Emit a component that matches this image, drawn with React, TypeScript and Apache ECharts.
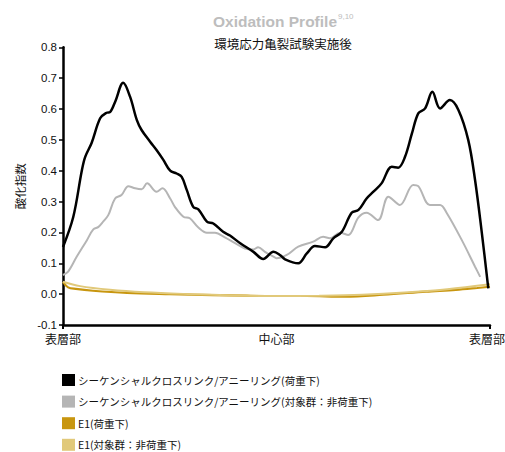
import React, { useEffect, useRef } from "react";
import * as echarts from "echarts";

// Position through the specimen: 0 = surface, 50 = centre, 100 = opposite surface
const positionTicks = [0, 50, 100];
const positionLabels = ["表層部", "中心部", "表層部"];

// Sequential crosslink / annealing, under load
const seqLoadX = [0, 2.4, 4.4, 5.2, 6.7, 8.7, 10.2, 11.0, 12.2, 14.1, 15.7, 17.3, 18.4, 20.4, 21.9, 23.5, 25.1, 26.6, 27.8, 29.0, 30.5, 31.7, 33.7, 35.2, 37.5, 39.1, 41.5, 44.6, 46.9, 49.3, 50.8, 52.0, 55.1, 57.1, 59.0, 61.4, 63.3, 65.3, 67.6, 69.2, 71.1, 72.7, 74.6, 77.0, 78.5, 80.1, 81.7, 83.2, 84.8, 86.5, 88.3, 90.6, 92.6, 94.9, 96.5, 98.1, 99.6];
const seqLoadY = [0.153, 0.25, 0.4, 0.445, 0.49, 0.57, 0.588, 0.59, 0.623, 0.685, 0.64, 0.564, 0.532, 0.494, 0.467, 0.435, 0.4, 0.391, 0.38, 0.337, 0.283, 0.275, 0.235, 0.229, 0.202, 0.19, 0.165, 0.137, 0.114, 0.137, 0.127, 0.113, 0.1, 0.132, 0.156, 0.152, 0.181, 0.202, 0.264, 0.273, 0.31, 0.332, 0.359, 0.413, 0.41, 0.445, 0.52, 0.586, 0.602, 0.656, 0.602, 0.629, 0.597, 0.5, 0.37, 0.197, 0.019];

// Sequential crosslink / annealing, control (no load)
const seqCtrlX = [0, 1.2, 3.2, 5.6, 7.1, 8.3, 9.4, 10.6, 12.2, 13.7, 15.3, 16.9, 18.4, 19.7, 21.9, 23.3, 25.1, 26.2, 28.2, 29.7, 31.7, 33.7, 35.6, 37.9, 40.3, 42.6, 44.6, 45.7, 47.3, 49.6, 50.0, 52.4, 55.1, 58.6, 60.9, 62.5, 64.9, 66.8, 69.2, 71.1, 73.8, 76.2, 78.9, 82.0, 83.2, 85.9, 88.3, 89.9, 93.4, 96.5, 97.7];
const seqCtrlY = [0.062, 0.073, 0.121, 0.175, 0.21, 0.218, 0.235, 0.256, 0.31, 0.321, 0.35, 0.343, 0.34, 0.359, 0.332, 0.343, 0.31, 0.283, 0.251, 0.246, 0.216, 0.199, 0.199, 0.184, 0.165, 0.148, 0.145, 0.152, 0.137, 0.119, 0.116, 0.127, 0.154, 0.17, 0.186, 0.181, 0.199, 0.192, 0.249, 0.264, 0.24, 0.316, 0.289, 0.354, 0.35, 0.289, 0.289, 0.262, 0.175, 0.089, 0.056];

// E1, under load
const e1LoadX = [0, 1.2, 3, 7, 15, 25, 35, 43, 50, 57, 66, 75, 85, 92, 97, 100];
const e1LoadY = [0.04, 0.022, 0.017, 0.011, 0.004, 0.0, -0.003, -0.005, -0.006, -0.006, -0.008, -0.002, 0.008, 0.014, 0.02, 0.024];

// E1, control (no load)
const e1CtrlX = [0, 4, 11, 19, 30, 40, 50, 60, 70, 80, 90, 100];
const e1CtrlY = [0.04, 0.026, 0.014, 0.006, 0.0, -0.004, -0.006, -0.005, -0.002, 0.005, 0.016, 0.032];

const seriesNames = [
  "シーケンシャルクロスリンク/アニーリング(荷重下)",
  "シーケンシャルクロスリンク/アニーリング(対象群：非荷重下)",
  "E1(荷重下)",
  "E1(対象群：非荷重下)",
];

const titleText = "Oxidation Profile";
const titleRefs = "9,10";
const subtitleText = "環境応力亀裂試験実施後";

const pairs = (xs: number[], ys: number[]) => xs.map((x, i) => [x, ys[i]]);

const LATIN = "Liberation Sans";
const CJK = "Noto Sans CJK JP";

export default function App() {
  const ref = useRef<HTMLDivElement>(null);

  useEffect(() => {
    if (!ref.current) return;
    const chart = echarts.init(ref.current, null, { renderer: "svg" });
    const line = (name: string, data: number[][], color: string, width: number, z: number) => ({
      name,
      type: "line",
      data,
      smooth: 0.35,
      showSymbol: false,
      symbol: "none",
      z,
      lineStyle: { color, width },
      itemStyle: { color },
    });

    chart.setOption({
      animation: false,
      backgroundColor: "#ffffff",
      graphic: [
        {
          type: "text",
          x: 213,
          y: 12,
          style: {
            text: `{a|${titleText}}{b|${titleRefs}}`,
            rich: {
              a: { fontFamily: LATIN, fontSize: 15.5, fontWeight: "bold", fill: "#bdbdbd", lineHeight: 18 },
              b: { fontFamily: LATIN, fontSize: 8, fill: "#bdbdbd", lineHeight: 18, padding: [0, 0, 9, 1] },
            },
          },
        },
        {
          type: "text",
          x: 283,
          y: 43,
          style: {
            text: subtitleText,
            fontFamily: CJK,
            fontSize: 12.5,
            fill: "#111",
            align: "center",
            verticalAlign: "middle",
          },
        },
      ],
      legend: {
        orient: "vertical",
        left: 62,
        top: 374,
        padding: 0,
        height: 78,
        itemWidth: 13,
        itemHeight: 12,
        itemGap: 9.6,
        icon: "rect",
        textStyle: { fontFamily: CJK, fontSize: 10.5, color: "#111", padding: [0, 0, 0, -2] },
        data: seriesNames,
      },
      grid: { left: 63, right: 15, top: 47.3, bottom: 127, containLabel: false, outerBoundsMode: "none" },
      xAxis: {
        type: "value",
        min: 0,
        max: 100,
        interval: 50,
        axisLine: { show: true, onZero: false, lineStyle: { color: "#000", width: 2.5 } },
        axisTick: { show: true, customValues: [0, 100], length: 4, lineStyle: { color: "#000", width: 2 } },
        splitLine: { show: false },
        axisLabel: {
          customValues: positionTicks,
          fontFamily: CJK,
          fontSize: 12,
          color: "#111",
          margin: 7,
          hideOverlap: false,
          rich: { r: { fontFamily: CJK, fontSize: 12, color: "#111", padding: [0, 6, 0, 0] } },
          formatter: (v: number) => {
            const i = positionTicks.indexOf(Math.round(v));
            if (i < 0) return "";
            return i === positionTicks.length - 1 ? `{r|${positionLabels[i]}}` : positionLabels[i];
          },
        },
      },
      yAxis: {
        type: "value",
        min: -0.1,
        max: 0.8,
        interval: 0.1,
        name: "酸化指数",
        nameLocation: "middle",
        nameRotate: 90,
        nameGap: 37,
        nameTextStyle: { fontFamily: CJK, fontSize: 11.5, color: "#111" },
        axisLine: { show: true, onZero: false, lineStyle: { color: "#000", width: 2.5 } },
        axisTick: { show: true, length: 4, lineStyle: { color: "#000", width: 1.5 } },
        splitLine: { show: false },
        axisLabel: {
          fontFamily: LATIN,
          fontSize: 11.5,
          color: "#111",
          margin: 6,
          formatter: (v: number) => v.toFixed(1),
        },
      },
      series: [
        line(seriesNames[0], pairs(seqLoadX, seqLoadY), "#000000", 2.5, 4),
        line(seriesNames[1], pairs(seqCtrlX, seqCtrlY), "#b5b5b5", 2, 3),
        line(seriesNames[2], pairs(e1LoadX, e1LoadY), "#c8960f", 2.2, 2),
        line(seriesNames[3], pairs(e1CtrlX, e1CtrlY), "#e1c97a", 2, 2),
      ],
    });
    return () => chart.dispose();
  }, []);

  return <div ref={ref} style={{ width: 505, height: 452, position: "absolute", left: 0, top: 0 }} />;
}
